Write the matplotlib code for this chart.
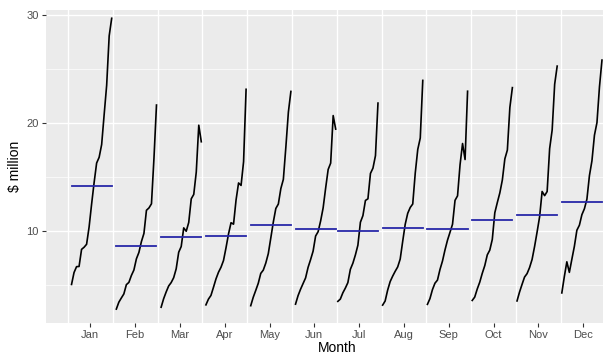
import numpy as np
import matplotlib.pyplot as plt

plt.rcParams['font.family'] = ['Liberation Sans', 'DejaVu Sans']

# Antidiabetic drug sales, $ million, one list per calendar month
months = ['Jan', 'Feb', 'Mar', 'Apr', 'May', 'Jun',
          'Jul', 'Aug', 'Sep', 'Oct', 'Nov', 'Dec']
years_jan_jun = list(range(1992, 2009))
years_jul_dec = list(range(1991, 2008))

jan = [5.088335, 6.192068, 6.731473, 6.749484, 8.329452, 8.524471, 8.798725, 10.391616, 12.511462,
       14.497581, 16.300269, 16.828350, 18.003768, 20.778723, 23.486694, 28.038383, 29.665356]
feb = [2.814520, 3.450857, 3.841278, 4.216067, 5.069796, 5.277918, 5.918309, 6.421644, 7.457199,
       8.049275, 9.053485, 9.800215, 11.938030, 12.154552, 12.536987, 16.763869, 21.654285]
mar = [2.985811, 3.772307, 4.394076, 4.949349, 5.262557, 5.714303, 6.534175, 8.062633, 8.591191,
       10.312891, 10.002449, 10.816994, 12.997900, 13.402392, 15.467018, 19.792754, 18.264945]
apr = [3.204780, 3.734303, 4.075341, 4.823045, 5.597126, 6.214529, 6.675520, 7.297936, 8.474000,
       9.753358, 10.788750, 10.654223, 12.882645, 14.459239, 14.233539, 16.427305, 23.107677]
may = [3.127578, 3.905399, 4.540645, 5.194754, 6.110296, 6.411929, 7.064343, 7.936350, 9.386803,
       10.850382, 12.106705, 12.512323, 13.943447, 14.795102, 17.783058, 21.000742, 22.912510]
jun = [3.270523, 4.049687, 4.645615, 5.170787, 5.689161, 6.667716, 7.383178, 8.165323, 9.560399,
       9.961719, 10.954101, 12.161210, 13.989472, 15.705248, 16.291602, 20.681002, 19.431740]
jul = [3.526591, 3.737851, 4.315566, 4.752607, 5.256742, 6.486849, 7.050880, 7.813195, 8.717420,
       10.834295, 11.443601, 12.844566, 12.998046, 15.339097, 15.829550, 16.980282, 21.834890]
aug = [3.180891, 3.558776, 4.562185, 5.350605, 5.855277, 6.300569, 6.704484, 7.431448, 9.070964,
       10.643751, 11.659239, 12.196500, 12.517276, 15.370764, 17.554701, 18.612189, 23.930204]
sep = [3.252221, 3.777202, 4.608662, 5.204455, 5.490729, 6.467476, 7.250648, 8.275117, 9.177113,
       9.908162, 10.647060, 12.854748, 13.268658, 16.142005, 18.100864, 16.623343, 22.930357]
oct = [3.611003, 3.924490, 4.667851, 5.301651, 6.115293, 6.828629, 7.819151, 8.260430, 9.251887,
       11.710041, 12.652134, 13.542004, 14.733622, 16.685754, 17.496668, 21.430241, 23.263340]
nov = [3.565869, 4.386531, 5.093841, 5.773742, 6.088473, 6.649810, 7.398093, 8.596828, 9.933690,
       11.340151, 13.674466, 13.287640, 13.669382, 17.636728, 19.347265, 23.575517, 25.250030]
dec = [4.306371, 5.810549, 7.179962, 6.204593, 7.416598, 8.606657, 10.096233, 10.558939, 11.532974,
       12.079132, 12.965735, 15.134918, 16.503966, 18.869325, 20.031291, 23.334206, 25.806090]

series = [jan, feb, mar, apr, may, jun, jul, aug, sep, oct, nov, dec]
year_lists = [years_jan_jun] * 6 + [years_jul_dec] * 6

first_year, last_year = 1991, 2008
season_width = (last_year - first_year) * 1.05

fig = plt.figure(figsize=(6.03, 3.55), dpi=100)
ax = fig.add_axes([45.5 / 603, 32 / 355, 582.4 / 603, 313 / 355])
ax.set_facecolor('#EBEBEB')

# grid: minor horizontal, major horizontal, season separators
for y in [5, 15, 25]:
    ax.axhline(y, color='white', lw=0.5, zorder=0)
for y in [10, 20, 30]:
    ax.axhline(y, color='white', lw=1.0, zorder=0)
for b in np.arange(0.5, 13, 1.0):
    ax.axvline(b, color='white', lw=1.0, zorder=0)

for i, (vals, yrs) in enumerate(zip(series, year_lists)):
    m = i + 1
    x = m - 0.5 + 0.025 + (np.array(yrs) - first_year) / season_width
    ax.plot(x, vals, color='black', lw=1.2, zorder=2)
    ax.plot([x.min(), x.max()], [np.mean(vals)] * 2, color='#2727a8', lw=1.3, zorder=3)

ax.set_xlim(0, 13)
ax.set_ylim(1.53, 30.43)
ax.set_xticks(range(1, 13))
ax.set_xticklabels(months)
ax.set_yticks([10, 20, 30])
for s in ax.spines.values():
    s.set_visible(False)
ax.tick_params(axis='both', length=2.8, width=0.8, color='#333333',
               labelcolor='#4D4D4D', labelsize=8, pad=2)
ax.set_xlabel('Month', fontsize=10, labelpad=1)
ax.set_ylabel('$ million', fontsize=10, labelpad=3)

fig.savefig('out.png', dpi=100)
